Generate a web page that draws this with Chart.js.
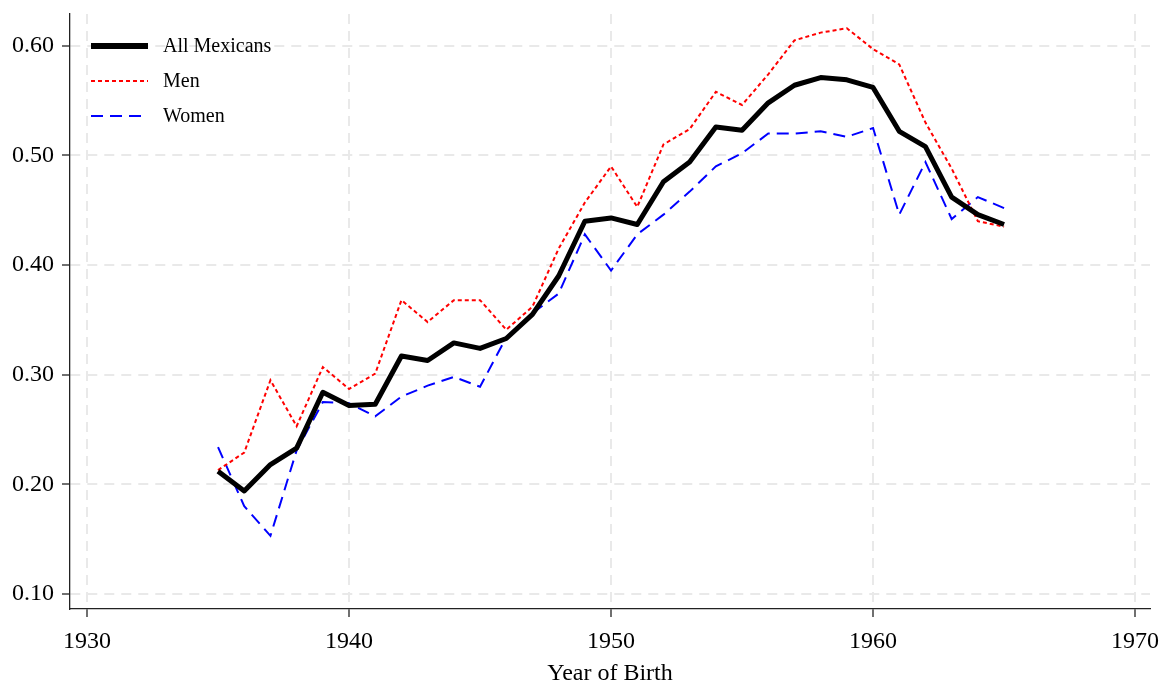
<!DOCTYPE html>
<html>
<head>
<meta charset="utf-8">
<script src="https://cdn.jsdelivr.net/npm/chart.js@4.4.1/dist/chart.umd.min.js"></script>
<style>
  html, body { margin: 0; padding: 0; background: #fff; }
  #wrap { width: 1163px; height: 683px; position: relative; }
</style>
</head>
<body>
<div id="wrap"><canvas id="birthChart"></canvas></div>
<script>
// cohorts by year of birth
const years = [1935, 1936, 1937, 1938, 1939, 1940, 1941, 1942, 1943, 1944, 1945,
  1946, 1947, 1948, 1949, 1950, 1951, 1952, 1953, 1954, 1955,
  1956, 1957, 1958, 1959, 1960, 1961, 1962, 1963, 1964, 1965];

const allMexicans = [0.212, 0.194, 0.218, 0.233, 0.284, 0.272, 0.273, 0.317, 0.313, 0.329, 0.324,
  0.333, 0.355, 0.390, 0.440, 0.443, 0.437, 0.476, 0.494, 0.526, 0.523,
  0.548, 0.564, 0.571, 0.569, 0.562, 0.522, 0.508, 0.462, 0.446, 0.437];

const men = [0.213, 0.229, 0.295, 0.253, 0.307, 0.287, 0.301, 0.368, 0.348, 0.368, 0.368,
  0.341, 0.362, 0.415, 0.457, 0.490, 0.453, 0.510, 0.524, 0.558, 0.546,
  0.574, 0.605, 0.612, 0.616, 0.597, 0.583, 0.530, 0.488, 0.440, 0.435];

const women = [0.234, 0.180, 0.153, 0.231, 0.275, 0.274, 0.262, 0.280, 0.290, 0.298, 0.289,
  0.334, 0.356, 0.374, 0.428, 0.395, 0.428, 0.446, 0.467, 0.490, 0.502,
  0.520, 0.520, 0.522, 0.517, 0.525, 0.446, 0.494, 0.442, 0.462, 0.452];

const xTicks = [1930, 1940, 1950, 1960, 1970];
const yTicks = [0.10, 0.20, 0.30, 0.40, 0.50, 0.60];

const pts = arr => arr.map((v, i) => ({x: years[i], y: v}));

Chart.defaults.font.family = "'Liberation Serif', 'Times New Roman', serif";
Chart.defaults.color = '#000';

// legend drawn inside the plot, top left, with line samples
const insideLegend = {
  id: 'insideLegend',
  afterDatasetsDraw(chart) {
    const ctx = chart.ctx;
    const area = chart.chartArea;
    chart.data.datasets.forEach((ds, i) => {
      const y = area.top + 32 + i * 35;
      ctx.save();
      ctx.strokeStyle = ds.borderColor;
      ctx.lineWidth = i === 0 ? 6 : ds.borderWidth;
      ctx.setLineDash(ds.borderDash || []);
      ctx.beginPath();
      ctx.moveTo(area.left + 21, y);
      ctx.lineTo(area.left + 78, y);
      ctx.stroke();
      ctx.setLineDash([]);
      ctx.fillStyle = '#000';
      ctx.font = "20px 'Liberation Serif', serif";
      ctx.textBaseline = 'middle';
      ctx.fillText(ds.label, area.left + 93, y + 1);
      ctx.restore();
    });
  }
};

const gridStyle = {
  color: '#e9e9e9',
  lineWidth: 2,
  tickColor: '#222',
  tickWidth: 1.3,
  tickLength: 8,
  tickBorderDash: []
};

const ctx = document.getElementById('birthChart').getContext('2d');
const birthChart = new Chart(ctx, {
  type: 'line',
  data: {
    datasets: [
      {
        label: 'All Mexicans',
        data: pts(allMexicans),
        borderColor: '#000',
        borderWidth: 5,
        borderJoinStyle: 'round'
      },
      {
        label: 'Men',
        data: pts(men),
        borderColor: '#ff0000',
        borderWidth: 2,
        borderDash: [4, 3]
      },
      {
        label: 'Women',
        data: pts(women),
        borderColor: '#0000ff',
        borderWidth: 2,
        borderDash: [12, 7]
      }
    ]
  },
  options: {
    responsive: true,
    maintainAspectRatio: false,
    animation: false,
    layout: { padding: { top: 14, right: 13, bottom: 0, left: 0 } },
    elements: { point: { radius: 0 }, line: { tension: 0 } },
    scales: {
      x: {
        type: 'linear',
        min: 1929.35,
        max: 1970.57,
        afterBuildTicks: s => { s.ticks = xTicks.map(v => ({value: v})); },
        afterFit: s => { s.height = 74; s.paddingLeft = 0; s.paddingRight = 0; },
        grid: gridStyle,
        border: { color: '#222', width: 1.3, dash: [10, 7] },
        ticks: {
          padding: 10,
          font: { size: 24 },
          callback: v => String(v)
        },
        title: {
          display: true,
          text: 'Year of Birth',
          font: { size: 24, lineHeight: 0.8 },
          padding: { top: 0, bottom: 0 }
        }
      },
      y: {
        min: 0.0863,
        max: 0.629,
        afterBuildTicks: s => { s.ticks = yTicks.map(v => ({value: v})); },
        afterFit: s => { s.width = 70; s.paddingTop = 0; s.paddingBottom = 0; },
        grid: gridStyle,
        border: { color: '#222', width: 1.3, dash: [10, 7] },
        ticks: {
          padding: 8,
          font: { size: 24 },
          callback: v => v.toFixed(2)
        }
      }
    },
    plugins: {
      legend: { display: false },
      tooltip: { enabled: false }
    }
  },
  plugins: [insideLegend]
});
</script>
</body>
</html>
